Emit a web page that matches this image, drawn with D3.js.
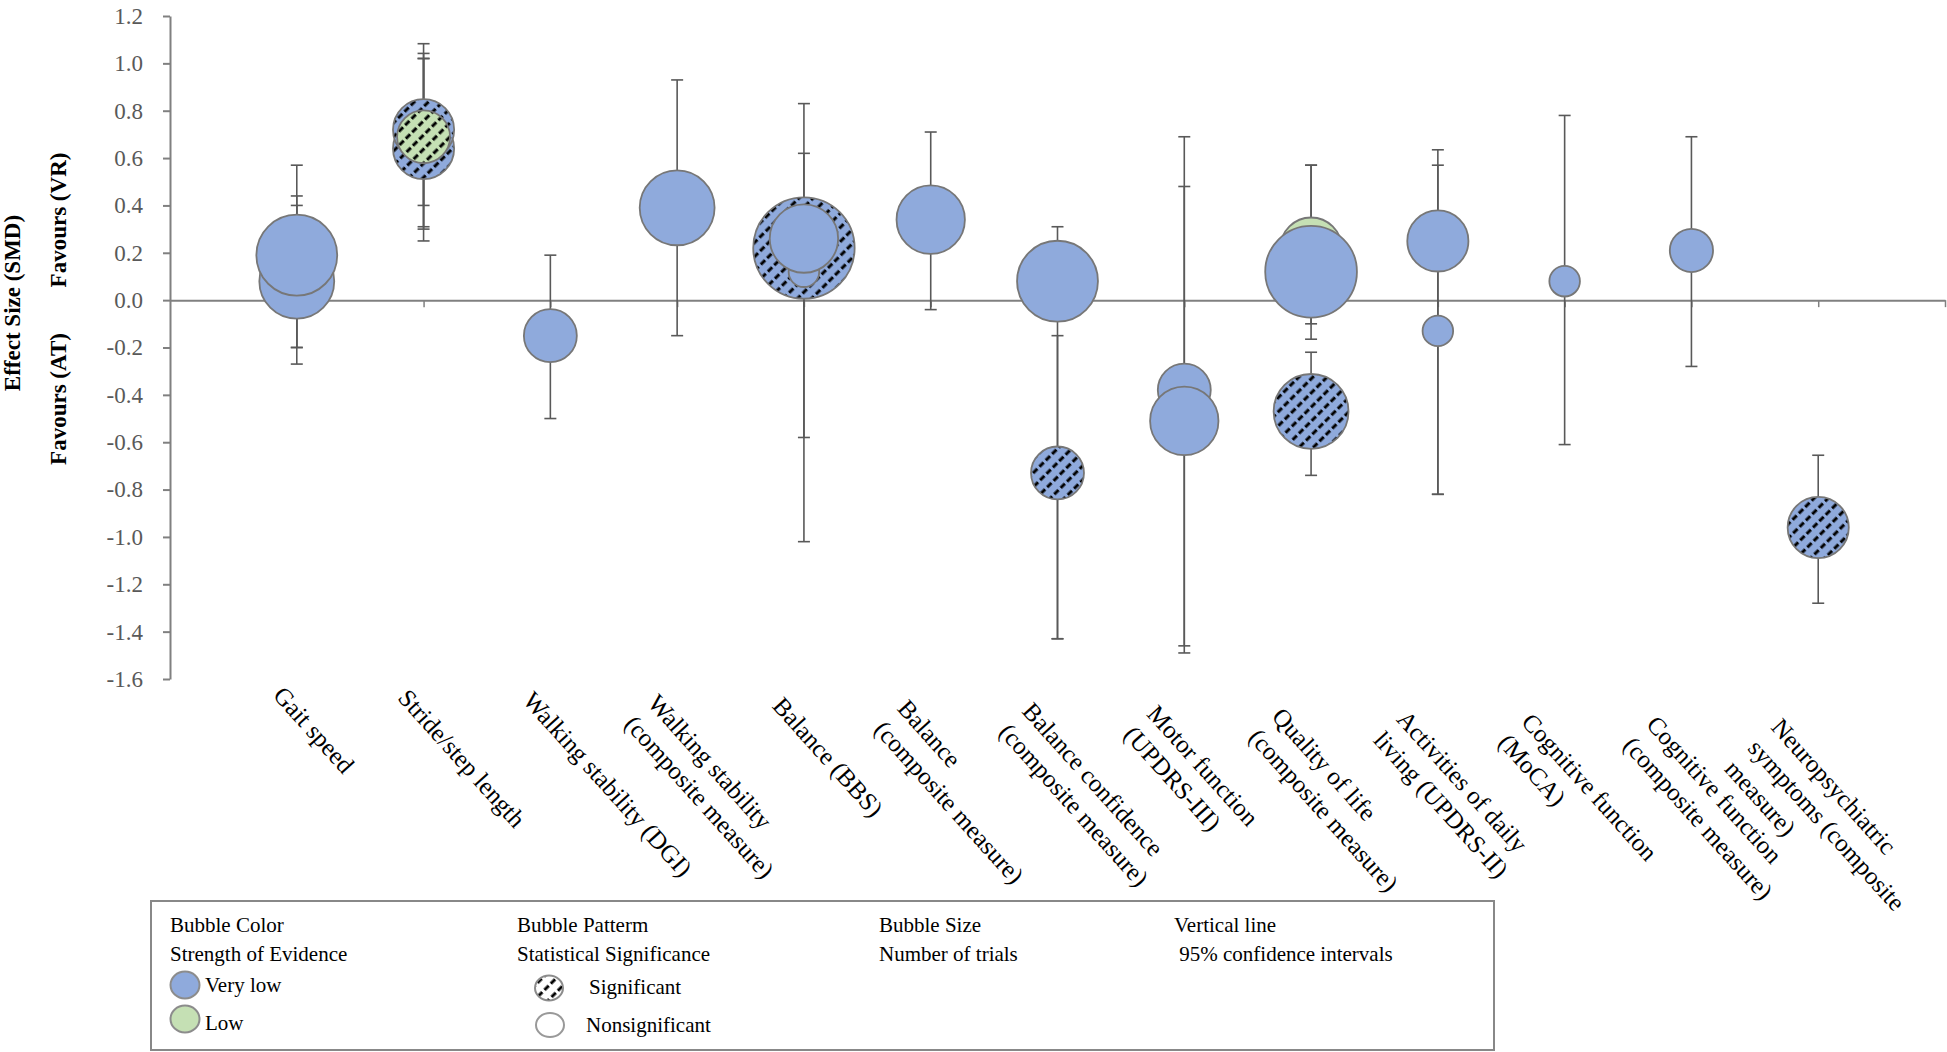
<!DOCTYPE html>
<html>
<head>
<meta charset="utf-8">
<script src="https://cdn.jsdelivr.net/npm/d3@7"></script>
<style>
  body { margin: 0; background: #fff; }
  svg text { font-family: "Liberation Serif", "Times New Roman", serif; }
</style>
</head>
<body>
<svg id="chart" width="1947" height="1052"></svg>
<script>
// outcome categories, one per x position (1..13)
const categories = [
  'Gait speed',
  'Stride/step length',
  'Walking stability (DGI)',
  'Walking stability\n(composite measure)',
  'Balance (BBS)',
  'Balance\n(composite measure)',
  'Balance confidence\n(composite measure)',
  'Motor function\n(UPDRS-III)',
  'Quality of life\n(composite measure)',
  'Activities of daily\nliving (UPDRS-II)',
  'Cognitive function\n(MoCA)',
  'Cognitive function\n(composite measure)',
  'Neuropsychiatric\nsymptoms (composite\nmeasure)'
];

const yTicks = [-1.6, -1.4, -1.2, -1.0, -0.8, -0.6, -0.4, -0.2, 0.0, 0.2, 0.4, 0.6, 0.8, 1.0, 1.2];

// one entry per bubble, listed in drawing order
const bubbleCat = [1, 1, 1, 2, 2, 2, 2, 3, 4, 5, 5, 5, 6, 7, 7, 8, 8, 9, 9, 9, 10, 10, 11, 12, 13];
const bubbleSmd = [0.10, 0.08, 0.19, 0.68, 0.64, 0.72, 0.69, -0.15, 0.39, 0.22, 0.12, 0.26, 0.34,
  0.08, -0.73, -0.38, -0.51, 0.22, 0.12, -0.47, 0.25, -0.13, 0.08, 0.21, -0.96];
const bubbleTrials = [1, 6, 7, 1, 4, 4, 3, 3, 6, 11, 1, 5, 5, 7, 3, 3, 5, 4, 9, 6, 4, 1, 1, 2, 4];
const bubbleEvidence = ['Very low', 'Very low', 'Very low', 'Very low', 'Very low', 'Very low', 'Low',
  'Very low', 'Very low', 'Very low', 'Very low', 'Very low', 'Very low', 'Very low', 'Very low',
  'Very low', 'Very low', 'Low', 'Very low', 'Very low', 'Very low', 'Very low', 'Very low',
  'Very low', 'Very low'];
const bubbleSignificant = [false, false, false, true, true, true, true, false, false, true, false, false,
  false, false, true, false, false, false, false, true, false, false, false, false, true];
const ciLower = [-0.20, -0.27, -0.20, 0.30, 0.25, 0.40, 0.31, -0.50, -0.15, 0.01, -0.58, -1.02, -0.04,
  -1.43, -1.43, -1.46, -1.49, -0.10, -0.165, -0.74, -0.82, -0.82, -0.61, -0.28, -1.28];
const ciUpper = [0.40, 0.44, 0.57, 1.02, 1.083, 1.042, 1.021, 0.19, 0.93, 0.42, 0.62, 0.83, 0.71,
  0.31, -0.15, 0.69, 0.48, 0.57, 0.57, -0.22, 0.635, 0.57, 0.78, 0.69, -0.655];

const evidenceColor = {'Very low': '#8faadc', 'Low': '#c5e0b4'};

const svg = d3.select('#chart');
svg.append('rect').attr('width', 1947).attr('height', 1052).attr('fill', '#fff');

const x = d3.scaleLinear().domain([0, 14]).range([170, 1945]);
const y = d3.scaleLinear().domain([-1.6, 1.2]).range([679, 16]);
const r = d3.scaleSqrt().domain([0, 11]).range([0, 50.7]);
// the rotated labels sit on their own slightly skewed anchor line
const labelX = d3.scaleLinear().domain([1, 13]).range([272, 1770]);
const labelY = d3.scaleLinear().domain([1, 13]).range([696, 728]);
const labelAngle = 48;

// hatch pattern for significant bubbles
const defs = svg.append('defs');
const hatch = defs.append('pattern')
  .attr('id', 'hatch')
  .attr('patternUnits', 'userSpaceOnUse')
  .attr('width', 9)
  .attr('height', 10)
  .attr('patternTransform', 'rotate(-45)');
hatch.append('line')
  .attr('x1', 0).attr('y1', 5).attr('x2', 9).attr('y2', 5)
  .attr('stroke', '#000')
  .attr('stroke-width', 3)
  .attr('stroke-dasharray', '6 3');

// axes
const axisColor = '#808080';
const yAxis = d3.axisLeft(y)
  .tickValues(yTicks)
  .tickSize(7)
  .tickSizeOuter(0)
  .tickPadding(20)
  .tickFormat(d => d.toFixed(1));
const gy = svg.append('g')
  .attr('transform', `translate(${x(0)},0)`)
  .call(yAxis);
gy.select('.domain').attr('stroke', axisColor).attr('stroke-width', 2);
gy.selectAll('.tick line').attr('stroke', axisColor).attr('stroke-width', 2);
gy.selectAll('.tick text')
  .attr('fill', '#595959')
  .style('font-size', '23px');

const xAxis = d3.axisBottom(x)
  .tickValues(d3.range(1, 15))
  .tickSize(7)
  .tickSizeOuter(0)
  .tickFormat('');
const gx = svg.append('g')
  .attr('transform', `translate(0,${y(0)})`)
  .call(xAxis);
gx.select('.domain').attr('stroke', axisColor).attr('stroke-width', 2);
gx.selectAll('.tick line').attr('stroke', axisColor).attr('stroke-width', 1.5);

// error bars (behind bubbles)
const idx = d3.range(bubbleSmd.length);
const capHalf = 6;
const bars = svg.append('g')
  .attr('stroke', '#595959')
  .attr('stroke-width', 1.6)
  .attr('fill', 'none');
idx.forEach(i => {
  const cx = x(bubbleCat[i]);
  bars.append('line')
    .attr('x1', cx).attr('x2', cx)
    .attr('y1', y(ciLower[i])).attr('y2', y(ciUpper[i]));
  [ciLower[i], ciUpper[i]].forEach(v => {
    bars.append('line')
      .attr('x1', cx - capHalf).attr('x2', cx + capHalf)
      .attr('y1', y(v)).attr('y2', y(v));
  });
});

// bubbles
const bubbles = svg.append('g');
idx.forEach(i => {
  const cx = x(bubbleCat[i]);
  const cy = y(bubbleSmd[i]);
  const rad = r(bubbleTrials[i]);
  bubbles.append('circle')
    .attr('cx', cx).attr('cy', cy).attr('r', rad)
    .attr('fill', evidenceColor[bubbleEvidence[i]])
    .attr('stroke', bubbleSignificant[i] ? 'none' : '#777')
    .attr('stroke-width', 1.8);
  if (bubbleSignificant[i]) {
    bubbles.append('circle')
      .attr('cx', cx).attr('cy', cy).attr('r', rad)
      .attr('fill', 'url(#hatch)')
      .attr('stroke', '#777')
      .attr('stroke-width', 1.8);
  }
});

// category labels, rotated
const labels = svg.append('g')
  .style('font-size', '25px')
  .attr('fill', '#000');
categories.forEach((c, i) => {
  const t = labels.append('text')
    .attr('transform', `translate(${labelX(i + 1)},${labelY(i + 1)}) rotate(${labelAngle})`);
  c.split('\n').forEach((line, k) => {
    t.append('tspan')
      .attr('x', 0)
      .attr('dy', k === 0 ? 0 : '1.25em')
      .text(line);
  });
});

// axis titles
const titles = svg.append('g')
  .style('font-size', '23px')
  .style('font-weight', 'bold')
  .attr('fill', '#000')
  .attr('text-anchor', 'middle');
titles.append('text')
  .attr('transform', 'translate(20,303) rotate(-90)')
  .text('Effect Size (SMD)');
titles.append('text')
  .attr('transform', 'translate(66,220) rotate(-90)')
  .text('Favours (VR)');
titles.append('text')
  .attr('transform', 'translate(66,399) rotate(-90)')
  .text('Favours (AT)');

// legend
const legend = svg.append('g').style('font-size', '21px').attr('fill', '#000');
legend.append('rect')
  .attr('x', 151).attr('y', 901)
  .attr('width', 1343).attr('height', 149)
  .attr('fill', '#fff')
  .attr('stroke', '#888')
  .attr('stroke-width', 2);

const legendCols = [
  {x: 170, lines: ['Bubble Color', 'Strength of Evidence']},
  {x: 517, lines: ['Bubble Patterm', 'Statistical Significance']},
  {x: 879, lines: ['Bubble Size', 'Number of trials']},
  {x: 1174, lines: ['Vertical line', ' 95% confidence intervals']}
];
legendCols.forEach(col => {
  col.lines.forEach((line, k) => {
    legend.append('text')
      .attr('x', col.x)
      .attr('y', 932 + k * 29)
      .attr('xml:space', 'preserve')
      .text(line);
  });
});

// evidence swatches
[['Very low', 985, 992], ['Low', 1019, 1030]].forEach(([name, cy, ty]) => {
  legend.append('ellipse')
    .attr('cx', 185).attr('cy', cy).attr('rx', 14.5).attr('ry', 13.5)
    .attr('fill', evidenceColor[name])
    .attr('stroke', '#8c8c8c')
    .attr('stroke-width', 2);
  legend.append('text').attr('x', 205).attr('y', ty).text(name);
});

// significance swatches
legend.append('ellipse')
  .attr('cx', 549).attr('cy', 988).attr('rx', 14).attr('ry', 12.5)
  .attr('fill', '#fff');
legend.append('ellipse')
  .attr('cx', 549).attr('cy', 988).attr('rx', 14).attr('ry', 12.5)
  .attr('fill', 'url(#hatch)')
  .attr('stroke', '#8c8c8c')
  .attr('stroke-width', 2);
legend.append('text').attr('x', 589).attr('y', 994).text('Significant');
legend.append('ellipse')
  .attr('cx', 550).attr('cy', 1025).attr('rx', 14).attr('ry', 12)
  .attr('fill', '#fff')
  .attr('stroke', '#999')
  .attr('stroke-width', 2);
legend.append('text').attr('x', 586).attr('y', 1032).text('Nonsignificant');
</script>
</body>
</html>
